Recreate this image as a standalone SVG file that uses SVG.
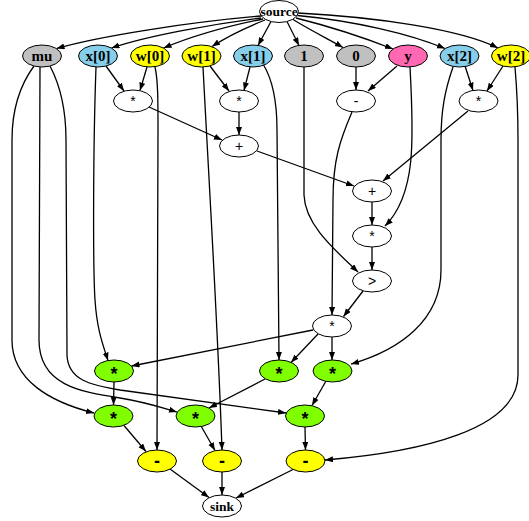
<svg xmlns="http://www.w3.org/2000/svg" width="529" height="521" viewBox="0 0 529 521">
  <defs>
    <marker id="arrow" markerUnits="userSpaceOnUse" markerWidth="9" markerHeight="7" refX="8" refY="3" orient="auto">
      <path d="M0,0 L8,3 L0,6 z" fill="#000"/>
    </marker>
  </defs>
  <style>
    .node ellipse { stroke: #000; stroke-width: 1; }
    .plain { fill: #fff; }
    .gray { fill: #c0c0c0; }
    .blue { fill: #87ceeb; }
    .yellow { fill: #ffff00; }
    .pink { fill: #ff69b4; }
    .green { fill: #7fff00; }
    .lbl { font-family: "Liberation Serif", "Times New Roman", serif; font-weight: bold; font-size: 15px; text-anchor: middle; fill: #000; }
    .small { font-size: 13.5px; }
    .op { font-family: "Liberation Sans", Arial, sans-serif; font-size: 14px; text-anchor: middle; fill: #000; }
    .bop { font-family: "Liberation Sans", Arial, sans-serif; font-weight: bold; font-size: 18px; text-anchor: middle; fill: #000; }
    .edges path { fill: none; stroke: #000; stroke-width: 1.3; marker-end: url(#arrow); }
  </style>

  <g id="edges" class="edges">
    <!-- source fan-out -->
    <path d="M261,16 C190,22 100,36 56.5,48.5"/>
    <path d="M261,18 C215,24 150,35 111.5,48"/>
    <path d="M263,19 C228,26 190,37 163.5,48"/>
    <path d="M265,20 C245,28 225,38 212,46.5"/>
    <path d="M271,21.5 L258,45.5"/>
    <path d="M287,21.5 L299,45.5"/>
    <path d="M293,19.5 C310,30 330,40 343,47.5"/>
    <path d="M296,18 C332,27 365,38 393,49"/>
    <path d="M297.5,15.5 C355,21 410,34 445,48.5"/>
    <path d="M298,13 C375,17 460,29 498,48"/>
    <!-- products of inputs and weights -->
    <path d="M106,66 L124,91"/>
    <path d="M147,67 L140,90.5"/>
    <path d="M210,66 L229,91"/>
    <path d="M250,67 L244,90.5"/>
    <path d="M465,66 L473,90.5"/>
    <path d="M503,66 L487,91"/>
    <path d="M356,67 L356,90"/>
    <path d="M397,66 L368,91"/>
    <!-- sums -->
    <path d="M149,107 L222,140"/>
    <path d="M239,112 L239,135"/>
    <path d="M257,151 L354,186"/>
    <path d="M468,111 L383,181"/>
    <path d="M372,202 L372,225"/>
    <path d="M410,67 C414,140 416,195 385,226"/>
    <path d="M372,247 L372,270"/>
    <path d="M304,67 L304,195 C305,225 335,250 358,272"/>
    <path d="M363,291 L343.5,316.5"/>
    <path d="M352,112 C340,140 333,160 333,200 L332,315"/>
    <!-- gradient products -->
    <path d="M313,330 L131.5,366"/>
    <path d="M318,334 L291,362.5"/>
    <path d="M332,337 L332,360"/>
    <path d="M96,67 C93,150 93,270 95,300 C97,330 103,345 108,360.5"/>
    <path d="M263,64 C273,80 277,100 277,130 L279,360"/>
    <path d="M453,67 C445,90 441,110 441,140 L441,270 C441,320 400,350 351,364"/>
    <!-- mu scaling -->
    <path d="M34,66 C20,85 12,110 12,140 L12,340 C12,380 50,402 94,413"/>
    <path d="M40,67 L39,340 C39,385 80,392 120,398 C145,402 160,407 177,412"/>
    <path d="M50,66 C60,85 66,110 66,140 L67,355 C68,380 90,385 120,390 L286,413"/>
    <path d="M114,382 L113.5,405"/>
    <path d="M265,379 L209,408"/>
    <path d="M326,381 L312,405.5"/>
    <!-- weight updates -->
    <path d="M155,67 C158,80 158,100 158,130 L157,450"/>
    <path d="M203,67 C210,200 218,330 222,450"/>
    <path d="M515,67 C517,90 518,110 518,140 L518,375 C518,430 420,452 325,460"/>
    <path d="M124,425.5 L146,451.5"/>
    <path d="M201,426 L215,450.5"/>
    <path d="M305,427 L305.5,450"/>
    <!-- collect into sink -->
    <path d="M170,469 L209,497.5"/>
    <path d="M222,472 L222,495"/>
    <path d="M293,469.5 L236,498"/>
  </g>

  <g id="source" class="node"><ellipse class="plain" cx="279" cy="11.5" rx="19.5" ry="11"/><text class="lbl small" x="279" y="16">source</text></g>

  <g id="mu" class="node"><ellipse class="gray" cx="42" cy="56" rx="19.5" ry="11"/><text class="lbl" x="42" y="61">mu</text></g>
  <g id="x0" class="node"><ellipse class="blue" cx="98" cy="56" rx="19.5" ry="11"/><text class="lbl" x="98" y="61">x[0]</text></g>
  <g id="w0" class="node"><ellipse class="yellow" cx="150" cy="56" rx="19.5" ry="11"/><text class="lbl" x="150" y="61">w[0]</text></g>
  <g id="w1" class="node"><ellipse class="yellow" cx="201.5" cy="56" rx="19.5" ry="11"/><text class="lbl" x="201.5" y="61">w[1]</text></g>
  <g id="x1" class="node"><ellipse class="blue" cx="253" cy="56" rx="19.5" ry="11"/><text class="lbl" x="253" y="61">x[1]</text></g>
  <g id="one" class="node"><ellipse class="gray" cx="304" cy="56" rx="19.5" ry="11"/><text class="lbl" x="304" y="61">1</text></g>
  <g id="zero" class="node"><ellipse class="gray" cx="356" cy="56" rx="19.5" ry="11"/><text class="lbl" x="356" y="61">0</text></g>
  <g id="y" class="node"><ellipse class="pink" cx="408" cy="56" rx="19.5" ry="11"/><text class="lbl" x="408" y="61">y</text></g>
  <g id="x2" class="node"><ellipse class="blue" cx="459.5" cy="56" rx="19.5" ry="11"/><text class="lbl" x="459.5" y="61">x[2]</text></g>
  <g id="w2" class="node"><ellipse class="yellow" cx="511" cy="56" rx="19.5" ry="11"/><text class="lbl" x="511" y="61">w[2]</text></g>

  <g id="mul0" class="node"><ellipse class="plain" cx="133" cy="101" rx="19.5" ry="11"/><text class="op" x="133" y="106">*</text></g>
  <g id="mul1" class="node"><ellipse class="plain" cx="239" cy="101" rx="19.5" ry="11"/><text class="op" x="239" y="106">*</text></g>
  <g id="diff" class="node"><ellipse class="plain" cx="356" cy="101" rx="19.5" ry="11"/><text class="op" x="356" y="106">-</text></g>
  <g id="mul2" class="node"><ellipse class="plain" cx="478.5" cy="101" rx="19.5" ry="11"/><text class="op" x="478.5" y="106">*</text></g>

  <g id="add0" class="node"><ellipse class="plain" cx="239" cy="146" rx="19.5" ry="11"/><text class="op" x="239" y="151">+</text></g>
  <g id="add1" class="node"><ellipse class="plain" cx="372" cy="191" rx="19.5" ry="11"/><text class="op" x="372" y="196">+</text></g>
  <g id="mul3" class="node"><ellipse class="plain" cx="372" cy="236" rx="19.5" ry="11"/><text class="op" x="372" y="241">*</text></g>
  <g id="gt" class="node"><ellipse class="plain" cx="372" cy="281" rx="19.5" ry="11"/><text class="op" x="372" y="286">&gt;</text></g>
  <g id="mul4" class="node"><ellipse class="plain" cx="332" cy="326" rx="19.5" ry="11"/><text class="op" x="332" y="331">*</text></g>

  <g id="g0" class="node"><ellipse class="green" cx="114" cy="371" rx="19.5" ry="11"/><text class="bop" x="114" y="380">*</text></g>
  <g id="g1" class="node"><ellipse class="green" cx="279" cy="371" rx="19.5" ry="11"/><text class="bop" x="279" y="380">*</text></g>
  <g id="g2" class="node"><ellipse class="green" cx="332.5" cy="371" rx="19.5" ry="11"/><text class="bop" x="332.5" y="380">*</text></g>
  <g id="g3" class="node"><ellipse class="green" cx="113.5" cy="416" rx="19.5" ry="11"/><text class="bop" x="113.5" y="425">*</text></g>
  <g id="g4" class="node"><ellipse class="green" cx="195.5" cy="416" rx="19.5" ry="11"/><text class="bop" x="195.5" y="425">*</text></g>
  <g id="g5" class="node"><ellipse class="green" cx="305" cy="416" rx="19.5" ry="11"/><text class="bop" x="305" y="425">*</text></g>

  <g id="upd0" class="node"><ellipse class="yellow" cx="157" cy="461" rx="19.5" ry="11"/><text class="bop" x="157" y="467">-</text></g>
  <g id="upd1" class="node"><ellipse class="yellow" cx="222" cy="461" rx="19.5" ry="11"/><text class="bop" x="222" y="467">-</text></g>
  <g id="upd2" class="node"><ellipse class="yellow" cx="305.5" cy="461" rx="19.5" ry="11"/><text class="bop" x="305.5" y="467">-</text></g>

  <g id="sink" class="node"><ellipse class="plain" cx="222" cy="506" rx="19.5" ry="11"/><text class="lbl small" x="222" y="510.5">sink</text></g>
</svg>
